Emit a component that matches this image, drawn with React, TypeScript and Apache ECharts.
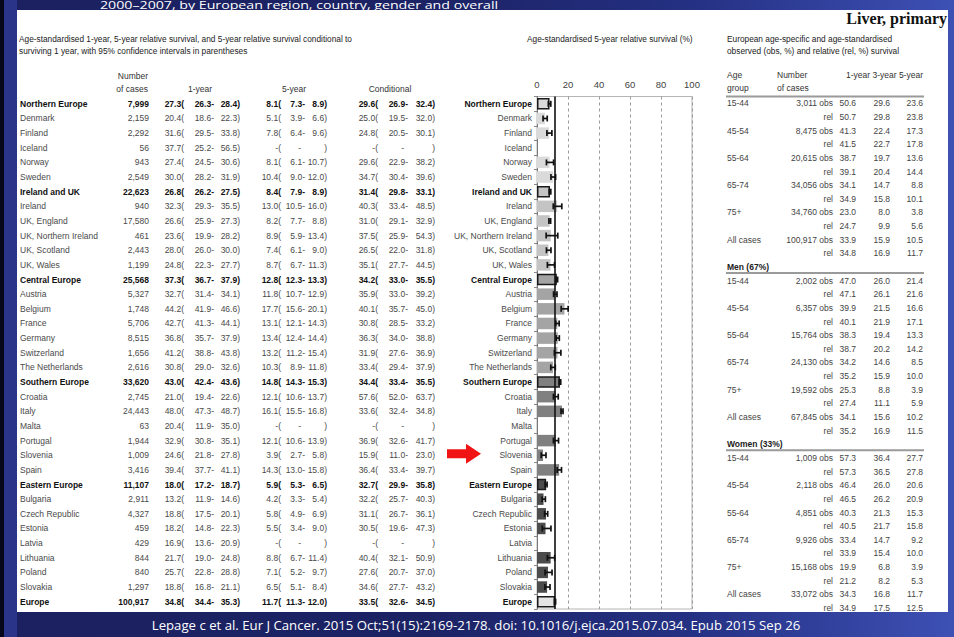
import { useEffect, useRef } from "react";
import * as echarts from "echarts";

// Countries and regional aggregates, top to bottom
const rowNames = [
  "Northern Europe", "Denmark", "Finland", "Iceland", "Norway", "Sweden",
  "Ireland and UK", "Ireland", "UK, England", "UK, Northern Ireland", "UK, Scotland", "UK, Wales",
  "Central Europe", "Austria", "Belgium", "France", "Germany", "Switzerland", "The Netherlands",
  "Southern Europe", "Croatia", "Italy", "Malta", "Portugal", "Slovenia", "Spain",
  "Eastern Europe", "Bulgaria", "Czech Republic", "Estonia", "Latvia", "Lithuania", "Poland", "Slovakia",
  "Europe",
];
const regionNames = ["Northern Europe", "Ireland and UK", "Central Europe", "Southern Europe", "Eastern Europe", "Europe"];

const cases = [
  7999, 2159, 2292, 56, 943, 2549,
  22623, 940, 17580, 461, 2443, 1199,
  25568, 5327, 1748, 5706, 8515, 1656, 2616,
  33620, 2745, 24443, 63, 1944, 1009, 3416,
  11107, 2911, 4327, 459, 429, 844, 840, 1297,
  100917,
];

type Est = [number, number, number] | null; // estimate, lower, upper

const oneYear: Est[] = [
  [27.3, 26.3, 28.4], [20.4, 18.6, 22.3], [31.6, 29.5, 33.8], [37.7, 25.2, 56.5], [27.4, 24.5, 30.6], [30.0, 28.2, 31.9],
  [26.8, 26.2, 27.5], [32.3, 29.3, 35.5], [26.6, 25.9, 27.3], [23.6, 19.9, 28.2], [28.0, 26.0, 30.0], [24.8, 22.3, 27.7],
  [37.3, 36.7, 37.9], [32.7, 31.4, 34.1], [44.2, 41.9, 46.6], [42.7, 41.3, 44.1], [36.8, 35.7, 37.9], [41.2, 38.8, 43.8], [30.8, 29.0, 32.6],
  [43.0, 42.4, 43.6], [21.0, 19.4, 22.6], [48.0, 47.3, 48.7], [20.4, 11.9, 35.0], [32.9, 30.8, 35.1], [24.6, 21.8, 27.8], [39.4, 37.7, 41.1],
  [18.0, 17.2, 18.7], [13.2, 11.9, 14.6], [18.8, 17.5, 20.1], [18.2, 14.8, 22.3], [16.9, 13.6, 20.9], [21.7, 19.0, 24.8], [25.7, 22.8, 28.8], [18.8, 16.8, 21.1],
  [34.8, 34.4, 35.3],
];

const fiveYear: Est[] = [
  [8.1, 7.3, 8.9], [5.1, 3.9, 6.6], [7.8, 6.4, 9.6], null, [8.1, 6.1, 10.7], [10.4, 9.0, 12.0],
  [8.4, 7.9, 8.9], [13.0, 10.5, 16.0], [8.2, 7.7, 8.8], [8.9, 5.9, 13.4], [7.4, 6.1, 9.0], [8.7, 6.7, 11.3],
  [12.8, 12.3, 13.3], [11.8, 10.7, 12.9], [17.7, 15.6, 20.1], [13.1, 12.1, 14.3], [13.4, 12.4, 14.4], [13.2, 11.2, 15.4], [10.3, 8.9, 11.8],
  [14.8, 14.3, 15.3], [12.1, 10.6, 13.7], [16.1, 15.5, 16.8], null, [12.1, 10.6, 13.9], [3.9, 2.7, 5.8], [14.3, 13.0, 15.8],
  [5.9, 5.3, 6.5], [4.2, 3.3, 5.4], [5.8, 4.9, 6.9], [5.5, 3.4, 9.0], null, [8.8, 6.7, 11.4], [7.1, 5.2, 9.7], [6.5, 5.1, 8.4],
  [11.7, 11.3, 12.0],
];

const conditional: Est[] = [
  [29.6, 26.9, 32.4], [25.0, 19.5, 32.0], [24.8, 20.5, 30.1], null, [29.6, 22.9, 38.2], [34.7, 30.4, 39.6],
  [31.4, 29.8, 33.1], [40.3, 33.4, 48.5], [31.0, 29.1, 32.9], [37.5, 25.9, 54.3], [26.5, 22.0, 31.8], [35.1, 27.7, 44.5],
  [34.2, 33.0, 35.5], [35.9, 33.0, 39.2], [40.1, 35.7, 45.0], [30.8, 28.5, 33.2], [36.3, 34.0, 38.8], [31.9, 27.6, 36.9], [33.4, 29.4, 37.9],
  [34.4, 33.4, 35.5], [57.6, 52.0, 63.7], [33.6, 32.4, 34.8], null, [36.9, 32.6, 41.7], [15.9, 11.0, 23.0], [36.4, 33.4, 39.7],
  [32.7, 29.9, 35.8], [32.2, 25.7, 40.3], [31.1, 26.7, 36.1], [30.5, 19.6, 47.3], null, [40.4, 32.1, 50.9], [27.6, 20.7, 37.0], [34.6, 27.7, 43.2],
  [33.5, 32.6, 34.5],
];

const axisTicks = [0, 20, 40, 60, 80, 100];

// Age-specific survival, all patients then by sex
const ageGroups = ["15-44", "45-54", "55-64", "65-74", "75+", "All cases"];
const sexSections = ["", "Men (67%)", "Women (33%)"];
const survivalKinds = ["obs", "rel"];
const ageCases = [
  [3011, 8475, 20615, 34056, 34760, 100917],
  [2002, 6357, 15764, 24130, 19592, 67845],
  [1009, 2118, 4851, 9926, 15168, 33072],
];
const ageObs = [
  [[50.6, 29.6, 23.6], [41.3, 22.4, 17.3], [38.7, 19.7, 13.6], [34.1, 14.7, 8.8], [23.0, 8.0, 3.8], [33.9, 15.9, 10.5]],
  [[47.0, 26.0, 21.4], [39.9, 21.5, 16.6], [38.3, 19.4, 13.3], [34.2, 14.6, 8.5], [25.3, 8.8, 3.9], [34.1, 15.6, 10.2]],
  [[57.3, 36.4, 27.7], [46.4, 26.0, 20.6], [40.3, 21.3, 15.3], [33.4, 14.7, 9.2], [19.9, 6.8, 3.9], [34.3, 16.8, 11.7]],
];
const ageRel = [
  [[50.7, 29.8, 23.8], [41.5, 22.7, 17.8], [39.1, 20.4, 14.4], [34.9, 15.8, 10.1], [24.7, 9.9, 5.6], [34.8, 16.9, 11.7]],
  [[47.1, 26.1, 21.6], [40.1, 21.9, 17.1], [38.7, 20.2, 14.2], [35.2, 15.9, 10.0], [27.4, 11.1, 5.9], [35.2, 16.9, 11.5]],
  [[57.3, 36.5, 27.8], [46.5, 26.2, 20.9], [40.5, 21.7, 15.8], [33.9, 15.4, 10.0], [21.2, 8.2, 5.3], [34.9, 17.5, 12.5]],
];

// ---- layout ----
const FONT = "'Liberation Sans', Arial, Helvetica, sans-serif";
const GRID_TOP = 96.5;
const GRID_BOTTOM = 609;
const BAND = (GRID_BOTTOM - GRID_TOP) / rowNames.length;
const rowY = (i: number) => GRID_TOP + BAND * (i + 0.5);
const RIGHT_TOP = 103.3;
const RIGHT_STEP = 13.64;
const ry = (j: number) => RIGHT_TOP + RIGHT_STEP * j;

const shadeByGroup = ["#dadada", "#c4c4c4", "#a4a4a4", "#808080", "#4c4c4c", "#e4e4e4"];

type TxtOpts = { size?: number; bold?: boolean; color?: string; align?: string; va?: string; family?: string; scaleX?: number };
function txt(text: string, x: number, y: number, o: TxtOpts = {}) {
  const align = o.align ?? "left";
  const va = o.va ?? "middle";
  return {
    type: "text",
    x,
    y,
    scaleX: o.scaleX ?? 1,
    silent: true,
    style: {
      text,
      fontSize: o.size ?? 8.5,
      fontFamily: o.family ?? FONT,
      fontWeight: o.bold ? "bold" : "normal",
      fill: o.color ?? "#444",
      align,
      textAlign: align,
      verticalAlign: va,
      textVerticalAlign: va,
    },
  };
}
function hline(x1: number, x2: number, y: number, color: string, w: number) {
  return { type: "line", silent: true, shape: { x1, y1: y, x2, y2: y }, style: { stroke: color, lineWidth: w } };
}

function buildGraphics() {
  const g: any[] = [];
  // slide heading and source line
  g.push(txt("2000\u20132007, by European region, country, gender and overall", 100, 5.6, { size: 10, color: "#ffffff", family: "'Open Sans', sans-serif", scaleX: 1.42 }));
  g.push(txt("Lepage c et al. Eur J Cancer. 2015 Oct;51(15):2169-2178. doi: 10.1016/j.ejca.2015.07.034. Epub 2015 Sep 26", 476, 625, { size: 13.2, color: "#ffffff", align: "center", family: "'Open Sans', sans-serif" }));
  g.push(txt("Liver, primary", 947, 18, { size: 16, bold: true, color: "#111", align: "right", family: "'Liberation Serif', 'Times New Roman', serif" }));

  // panel captions
  g.push(txt("Age-standardised 1-year, 5-year relative survival, and 5-year relative survival conditional to", 19, 38.5, { size: 8.3, color: "#222" }));
  g.push(txt("surviving 1 year, with 95% confidence intervals in parentheses", 19, 50.5, { size: 8.3, color: "#222" }));
  g.push(txt("Age-standardised 5-year relative survival (%)", 527, 38.5, { size: 8.3, color: "#222" }));
  g.push(txt("European age-specific and age-standardised", 727, 38.5, { size: 8.3, color: "#222" }));
  g.push(txt("observed (obs, %) and relative (rel, %) survival", 727, 50.5, { size: 8.3, color: "#222" }));

  // left table header
  g.push(txt("Number", 148, 76, { color: "#333", align: "right" }));
  g.push(txt("of cases", 148, 89, { color: "#333", align: "right" }));
  g.push(txt("1-year", 200, 89, { color: "#333", align: "center" }));
  g.push(txt("5-year", 294, 89, { color: "#333", align: "center" }));
  g.push(txt("Conditional", 390, 89, { color: "#333", align: "center" }));

  const cols = [
    [184, 214, 240],
    [281, 305, 327],
    [378, 408, 435],
  ];
  const measures = [oneYear, fiveYear, conditional];
  rowNames.forEach((name, i) => {
    const bold = regionNames.includes(name);
    const color = bold ? "#111" : "#4a4a4a";
    const y = rowY(i);
    const o = { bold, color, align: "right" };
    g.push(txt(name, 20, y, { bold, color }));
    g.push(txt(cases[i].toLocaleString("en-US"), 149, y, o));
    measures.forEach((m, k) => {
      const d = m[i];
      const c = cols[k];
      if (d) {
        g.push(txt(d[0].toFixed(1) + "(", c[0], y, o));
        g.push(txt(d[1].toFixed(1) + "-", c[1], y, o));
        g.push(txt(d[2].toFixed(1) + ")", c[2], y, o));
      } else {
        g.push(txt("-(", c[0], y, o));
        g.push(txt("-", c[1] - 4, y, o));
        g.push(txt(")", c[2], y, o));
      }
    });
  });

  // right table header
  g.push(txt("Age", 727, 75, { color: "#333" }));
  g.push(txt("group", 727, 88, { color: "#333" }));
  g.push(txt("Number", 777, 75, { color: "#333" }));
  g.push(txt("of cases", 777, 88, { color: "#333" }));
  g.push(txt("1-year 3-year 5-year", 923, 75, { color: "#333", align: "right" }));
  g.push(hline(726, 924, 96.5, "#9a9a9a", 2));

  let j = 0;
  sexSections.forEach((sec, s) => {
    if (sec) {
      g.push(txt(sec, 727, ry(j), { bold: true, color: "#222" }));
      g.push(hline(726, 924, ry(j) + 6, "#9a9a9a", 2));
      j++;
    }
    ageGroups.forEach((ag, a) => {
      [ageObs, ageRel].forEach((src, r) => {
        const y = ry(j);
        if (r === 0) {
          g.push(txt(ag, 727, y));
          g.push(txt(ageCases[s][a].toLocaleString("en-US"), 817, y, { align: "right" }));
        }
        g.push(txt(survivalKinds[r], 833, y, { align: "right" }));
        const v = src[s][a];
        g.push(txt(v[0].toFixed(1), 856, y, { align: "right" }));
        g.push(txt(v[1].toFixed(1), 890, y, { align: "right" }));
        g.push(txt(v[2].toFixed(1), 923, y, { align: "right" }));
        j++;
      });
    });
  });

  // red pointer at Slovenia
  const sy = rowY(rowNames.indexOf("Slovenia")) - 1.5;
  g.push({
    type: "polygon",
    silent: true,
    shape: {
      points: [
        [447, sy - 4.5], [466, sy - 4.5], [466, sy - 10], [481, sy],
        [466, sy + 10], [466, sy + 4.5], [447, sy + 4.5],
      ],
    },
    style: { fill: "#f01414" },
  });
  return g;
}

function buildOption() {
  let grp = -1;
  const groupOf = rowNames.map((n) => {
    if (regionNames.includes(n)) grp++;
    return grp;
  });
  const europe = fiveYear[rowNames.indexOf("Europe")]!;

  const barData = fiveYear.map((d, i) => {
    if (!d) return "-";
    const region = regionNames.includes(rowNames[i]);
    return {
      value: d[0],
      itemStyle: {
        color: shadeByGroup[groupOf[i]],
        borderColor: region ? "#1a1a1a" : shadeByGroup[groupOf[i]],
        borderWidth: region ? 1.5 : 0,
      },
    };
  });
  const ciData = fiveYear
    .map((d, i) => (d ? [d[1], i, d[2]] : null))
    .filter((d) => d !== null);

  return {
    animation: false,
    backgroundColor: "transparent",
    textStyle: { fontFamily: FONT },
    graphic: { elements: buildGraphics() },
    grid: {
      left: 537,
      right: 954 - 692,
      top: GRID_TOP,
      bottom: 637 - GRID_BOTTOM,
      show: true,
      borderColor: "#b5b5b5",
      borderWidth: 1,
      backgroundColor: "transparent",
    },
    xAxis: {
      type: "value",
      position: "top",
      min: axisTicks[0],
      max: axisTicks[axisTicks.length - 1],
      interval: axisTicks[1] - axisTicks[0],
      axisLine: { show: false },
      axisTick: { show: false },
      axisLabel: { fontSize: 9.5, color: "#444", margin: 7, fontFamily: FONT },
      splitLine: { show: true, lineStyle: { color: "#9a9a9a", type: [3, 3], width: 1 } },
    },
    yAxis: {
      type: "category",
      inverse: true,
      data: rowNames,
      axisLine: { show: true, lineStyle: { color: "#777", width: 1 } },
      axisTick: { show: true, length: 3, lineStyle: { color: "#888" } },
      axisLabel: {
        fontSize: 8.5,
        color: "#4a4a4a",
        margin: 5,
        fontFamily: FONT,
        formatter: (v: string) => (regionNames.includes(v) ? `{b|${v}}` : v),
        rich: { b: { fontWeight: "bold", color: "#111", fontSize: 8.5, fontFamily: FONT } },
      },
      splitLine: { show: false },
    },
    series: [
      {
        type: "bar",
        data: barData,
        barWidth: 11.5,
        z: 2,
        markLine: {
          silent: true,
          symbol: ["none", "none"],
          label: { show: false },
          lineStyle: { color: "#111", width: 1.6, type: "solid" },
          data: [{ xAxis: europe[0] }],
        },
      },
      {
        type: "custom",
        z: 4,
        encode: { x: [0, 2], y: 1 },
        data: ciData,
        renderItem: (_params: any, api: any) => {
          const cat = api.value(1);
          const p1 = api.coord([api.value(0), cat]);
          const p2 = api.coord([api.value(2), cat]);
          const h = 3;
          const st = { stroke: "#111", lineWidth: 1.7 };
          return {
            type: "group",
            children: [
              { type: "line", shape: { x1: p1[0], y1: p1[1], x2: p2[0], y2: p2[1] }, style: st },
              { type: "line", shape: { x1: p1[0], y1: p1[1] - h, x2: p1[0], y2: p1[1] + h }, style: st },
              { type: "line", shape: { x1: p2[0], y1: p2[1] - h, x2: p2[0], y2: p2[1] + h }, style: st },
            ],
          };
        },
      },
    ],
  };
}

export default function App() {
  const ref = useRef<HTMLDivElement>(null);
  useEffect(() => {
    if (!ref.current) return;
    const chart = echarts.init(ref.current, null, { renderer: "svg" });
    chart.setOption(buildOption() as any);
    return () => chart.dispose();
  }, []);
  return (
    <div
      style={{
        position: "fixed",
        left: 0,
        top: 0,
        width: 954,
        height: 637,
        overflow: "hidden",
        background: "linear-gradient(90deg, #1b2160 0%, #1c2365 45%, #243082 72%, #3d50b4 100%)",
      }}
    >
      <div style={{ position: "absolute", left: 0, top: 0, width: 4, height: 637, background: "#05061a" }} />
      <div style={{ position: "absolute", left: 4, top: 0, width: 13, height: 637, background: "#2a3488" }} />
      <div style={{ position: "absolute", left: 17, top: 10, width: 931, height: 602, background: "#ffffff" }} />
      <div ref={ref} style={{ position: "absolute", left: 0, top: 0, width: 954, height: 637 }} />
    </div>
  );
}
